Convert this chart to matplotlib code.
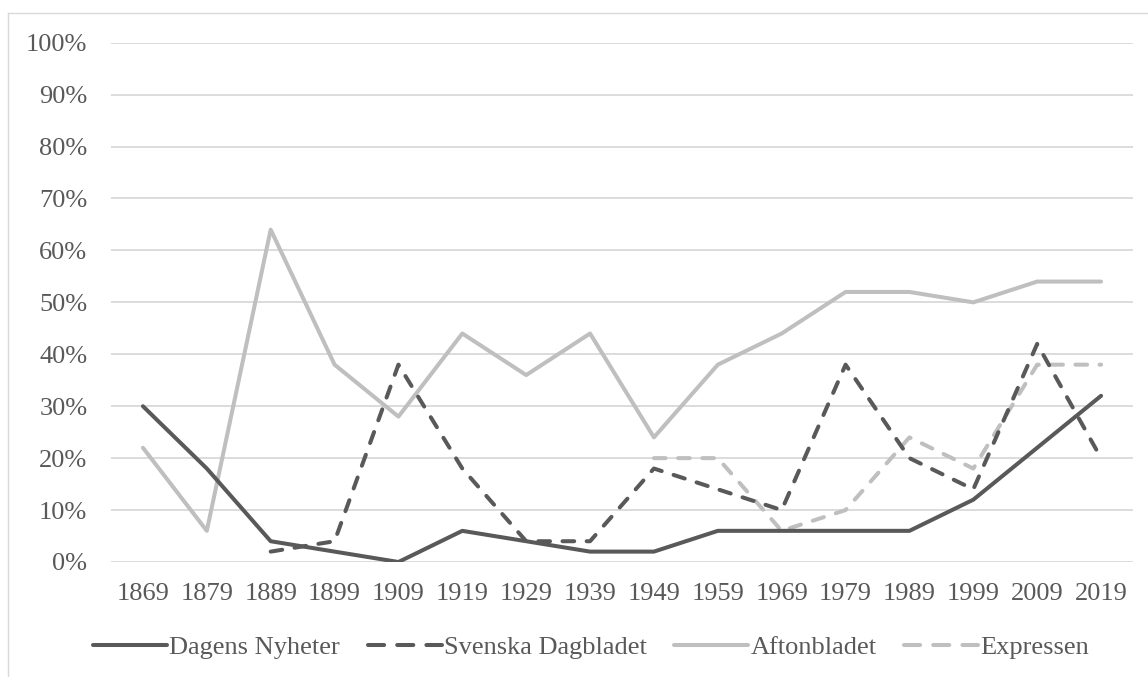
import matplotlib
matplotlib.use("Agg")
import matplotlib.pyplot as plt
from matplotlib.lines import Line2D
import numpy as np

years = ["1869", "1879", "1889", "1899", "1909", "1919", "1929", "1939",
         "1949", "1959", "1969", "1979", "1989", "1999", "2009", "2019"]
dagens_nyheter = [30, 18, 4, 2, 0, 6, 4, 2, 2, 6, 6, 6, 6, 12, 22, 32]
svenska_dagbladet = [None, None, 2, 4, 38, 18, 4, 4, 18, 14, 10, 38, 20, 14, 42, 20]
aftonbladet = [22, 6, 64, 38, 28, 44, 36, 44, 24, 38, 44, 52, 52, 50, 54, 54]
expressen = [None, None, None, None, None, None, None, None, 20, 20, 6, 10, 24, 18, 38, 38]
series_names = ["Dagens Nyheter", "Svenska Dagbladet", "Aftonbladet", "Expressen"]
y_ticks = [0, 10, 20, 30, 40, 50, 60, 70, 80, 90, 100]

DARK = "#595959"
LIGHT = "#bfbfbf"
GRID = "#d9d9d9"

plt.rcParams['font.family'] = ['Liberation Serif', 'DejaVu Serif']

W, H = 1148, 677
fig = plt.figure(figsize=(W / 100, H / 100), dpi=100)
ax = fig.add_axes([111 / W, 1 - 562 / H, (1133 - 111) / W, (562 - 42.7) / H])

x = np.arange(len(years))

def arr(v):
    return np.array([np.nan if a is None else a for a in v], dtype=float)

lw = 2.9
dash = (2.9, 3.1)
styles = [(DARK, None, 3), (DARK, dash, 3), (LIGHT, None, 2), (LIGHT, dash, 2)]
data = [dagens_nyheter, svenska_dagbladet, aftonbladet, expressen]

handles = []
for vals, name, (col, ds, z) in zip(data, series_names, styles):
    if ds is None:
        ax.plot(x, arr(vals), color=col, lw=lw, solid_capstyle='round',
                solid_joinstyle='round', zorder=z)
        handles.append(Line2D([], [], color=col, lw=lw, solid_capstyle='round', label=name))
    else:
        ax.plot(x, arr(vals), color=col, lw=lw, dashes=ds, dash_capstyle='round',
                dash_joinstyle='round', zorder=z)
        handles.append(Line2D([], [], color=col, lw=lw, dashes=(4.0, 3.25),
                              dash_capstyle='round', label=name))

ax.set_xlim(-0.5, len(years) - 0.5)
ax.set_ylim(0, 100)
ax.set_yticks(y_ticks)
ax.set_yticklabels([f"{v}%" for v in y_ticks])
ax.set_xticks(x)
ax.set_xticklabels(years)
for v in y_ticks:
    ax.axhline(v, color=GRID, lw=1.3, zorder=1)
for s in ax.spines.values():
    s.set_visible(False)
ax.tick_params(axis='both', length=0, colors=DARK, labelsize=19)
ax.tick_params(axis='y', pad=17)
ax.tick_params(axis='x', pad=15)

leg = fig.legend(handles=handles, loc='center', bbox_to_anchor=(0.515, 1 - 647 / H), ncol=4,
                 frameon=False, fontsize=19, handlelength=2.8, handletextpad=0.08,
                 columnspacing=1.05, labelcolor=DARK)

# chart frame (top and left edges visible, the rest is cropped)
fig.add_artist(Line2D([8 / W, 1.0], [1 - 13 / H, 1 - 13 / H], transform=fig.transFigure,
                      color=GRID, lw=1.0))
fig.add_artist(Line2D([8 / W, 8 / W], [0.0, 1 - 13 / H], transform=fig.transFigure,
                      color=GRID, lw=1.0))

fig.savefig("out.png", dpi=100)
